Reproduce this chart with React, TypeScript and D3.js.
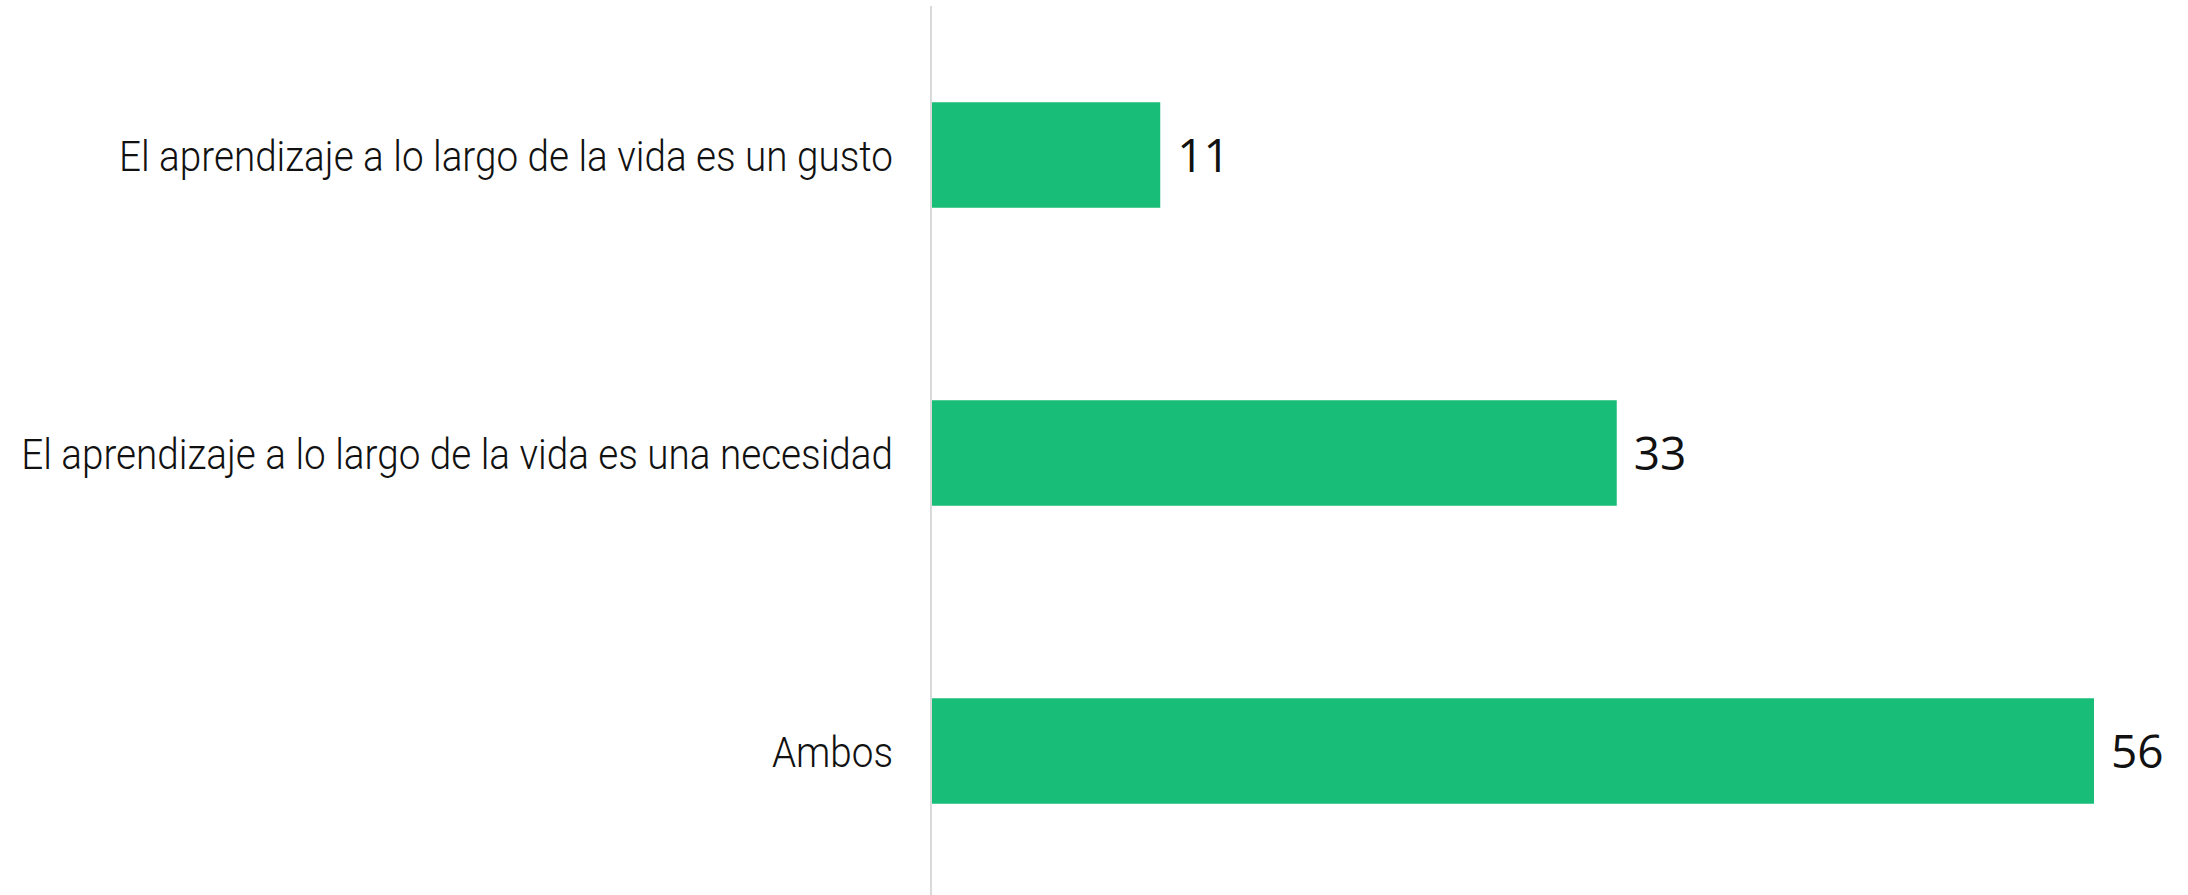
import React, { useLayoutEffect, useRef, useState } from "react";
import * as d3 from "d3";

const categories = [
  "El aprendizaje a lo largo de la vida es un gusto",
  "El aprendizaje a lo largo de la vida es una necesidad",
  "Ambos",
];
const values = [11, 33, 56];

const W = 2188;
const H = 895;
const BAR_COLOR = "#18BD78";
const LABEL_RIGHT = 893;
const LONGEST_TARGET = 872;

export default function App() {
  const x = d3.scaleLinear().domain([0, 56]).range([932, 2094]);
  const y = d3
    .scaleBand<string>()
    .domain(categories)
    .range([6, 900])
    .paddingInner(0.646)
    .paddingOuter(0.323);

  const refs = useRef<(SVGTextElement | null)[]>([]);
  const [k, setK] = useState(1);

  useLayoutEffect(() => {
    const widths = refs.current.map((el) => (el ? el.getComputedTextLength() : 0));
    const maxW = d3.max(widths) || 1;
    setK(LONGEST_TARGET / maxW);
  }, []);

  return (
    <svg
      width={W}
      height={H}
      style={{ position: "absolute", left: 0, top: 0, background: "#fff" }}
    >
      <line x1={931} x2={931} y1={6} y2={H} stroke="#d9d9d9" strokeWidth={2} />
      {categories.map((c, i) => {
        const yc = (y(c) as number) + y.bandwidth() / 2;
        return (
          <g key={c}>
            <rect
              x={x(0)}
              y={y(c)}
              width={x(values[i]) - x(0)}
              height={y.bandwidth()}
              fill={BAR_COLOR}
            />
            <g transform={`translate(${LABEL_RIGHT},${yc + 15.5}) scale(${k},1)`}>
              <text
                ref={(el) => {
                  refs.current[i] = el;
                }}
                x={0}
                y={0}
                textAnchor="end"
                fontFamily="Roboto, sans-serif"
                fontWeight={300}
                fontSize={43}
                fill="#111"
              >
                {c}
              </text>
            </g>
            <text
              x={x(values[i]) + 17}
              y={yc + 16.5}
              fontFamily="'Open Sans', sans-serif"
              fontSize={46}
              fill="#111"
            >
              {values[i]}
            </text>
          </g>
        );
      })}
    </svg>
  );
}
